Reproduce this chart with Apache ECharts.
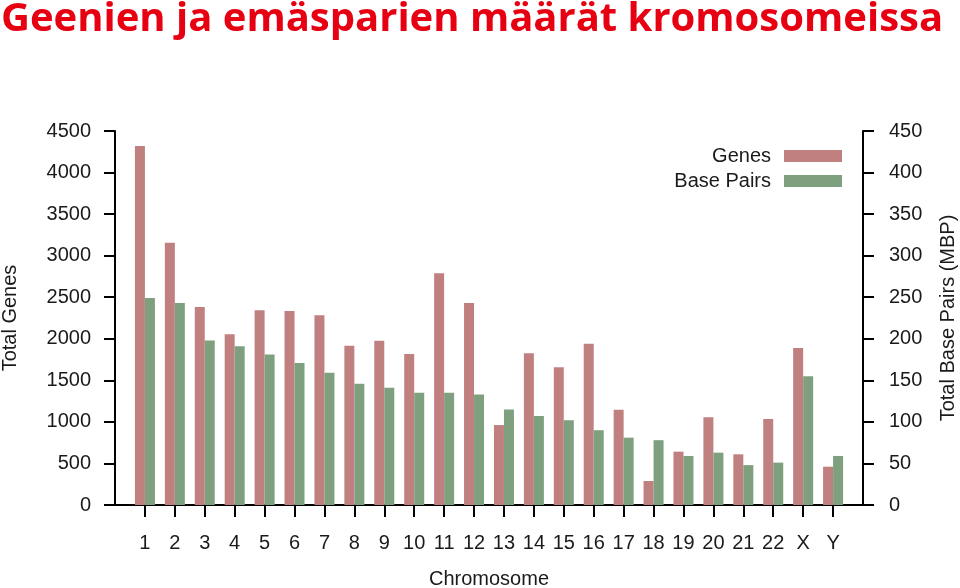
<!DOCTYPE html>
<html>
<head>
<meta charset="utf-8">
<script src="https://cdn.jsdelivr.net/npm/echarts@6/dist/echarts.min.js"></script>
<style>html,body{margin:0;padding:0;background:#fff}#c{width:960px;height:588px}</style>
</head>
<body>
<div id="c"></div>
<script>
const chromosomes = ['1','2','3','4','5','6','7','8','9','10','11','12','13','14','15','16','17','18','19','20','21','22','X','Y'];
const genes = [4320,3156,2382,2053,2342,2334,2282,1917,1977,1817,2787,2430,962,1825,1656,1941,1147,289,642,1055,610,1035,1889,461];
const basePairs = [249,243,198,191,181,171,159,146,141,135,135,133,115,107,102,90,81,78,59,63,48,51,155,59];
const genesTicks = [0,500,1000,1500,2000,2500,3000,3500,4000,4500];
const bpTicks = [0,50,100,150,200,250,300,350,400,450];

// pad category axis with empty ends so the axis line extends beyond the first/last bar
const cats = [''].concat(chromosomes, ['']);
const gData = [null].concat(genes, [null]);
const bData = [null].concat(basePairs, [null]);
const last = cats.length - 1;

const font = 'Liberation Sans, Arial, sans-serif';
const txt = '#1a1a1a';
const fs = 20;

const chart = echarts.init(document.getElementById('c'), null, {renderer: 'canvas'});
chart.setOption({
  animation: false,
  backgroundColor: '#fff',
  title: {
    text: 'Geenien ja emäsparien määrät kromosomeissa',
    left: -4, top: -5,
    textStyle: {color: '#e60012', fontSize: 40, fontWeight: 'bold', fontFamily: 'Open Sans, sans-serif'}
  },
  legend: {
    right: 113, top: 141, orient: 'vertical', align: 'right',
    itemWidth: 58, itemHeight: 12, itemGap: 5,
    icon: 'rect',
    textStyle: {fontSize: fs, color: txt, fontFamily: font, padding: [0, 8, 0, 0]},
    data: ['Genes', 'Base Pairs']
  },
  grid: {left: 115, right: 97, top: 131, bottom: 83, outerBoundsMode: 'none', containLabel: false},
  xAxis: {
    type: 'category', data: cats, boundaryGap: false,
    name: 'Chromosome', nameLocation: 'middle', nameGap: 64,
    nameTextStyle: {fontSize: fs, color: txt, fontFamily: font},
    axisLine: {lineStyle: {color: '#000', width: 2}},
    axisTick: {length: 12, lineStyle: {color: '#000', width: 2}, interval: (i) => i > 0 && i < last},
    axisLabel: {fontSize: fs, color: txt, fontFamily: font, margin: 28, interval: 0},
    splitLine: {show: false}
  },
  yAxis: [
    {
      type: 'value', min: 0, max: 4500, interval: 500, position: 'left',
      name: 'Total Genes', nameLocation: 'middle', nameGap: 95,
      nameTextStyle: {fontSize: fs, color: txt, fontFamily: font},
      axisLine: {show: true, lineStyle: {color: '#000', width: 2}},
      axisTick: {show: true, length: 11, lineStyle: {color: '#000', width: 2}},
      axisLabel: {fontSize: fs, color: txt, fontFamily: font, margin: 24, formatter: (v) => genesTicks.includes(v) ? String(v) : ''},
      splitLine: {show: false}
    },
    {
      type: 'value', min: 0, max: 450, interval: 50, position: 'right',
      name: 'Total Base Pairs (MBP)', nameLocation: 'middle', nameGap: 75,
      nameTextStyle: {fontSize: fs, color: txt, fontFamily: font},
      axisLine: {show: true, lineStyle: {color: '#000', width: 2}},
      axisTick: {show: true, length: 11, lineStyle: {color: '#000', width: 2}},
      axisLabel: {fontSize: fs, color: txt, fontFamily: font, margin: 26, formatter: (v) => bpTicks.includes(v) ? String(v) : ''},
      splitLine: {show: false}
    }
  ],
  series: [
    {name: 'Genes', type: 'bar', yAxisIndex: 0, data: gData, barWidth: 10, barGap: '0%', itemStyle: {color: '#c08080'}},
    {name: 'Base Pairs', type: 'bar', yAxisIndex: 1, data: bData, barWidth: 10, barGap: '0%', itemStyle: {color: '#7fa07f'}}
  ]
});
</script>
</body>
</html>
